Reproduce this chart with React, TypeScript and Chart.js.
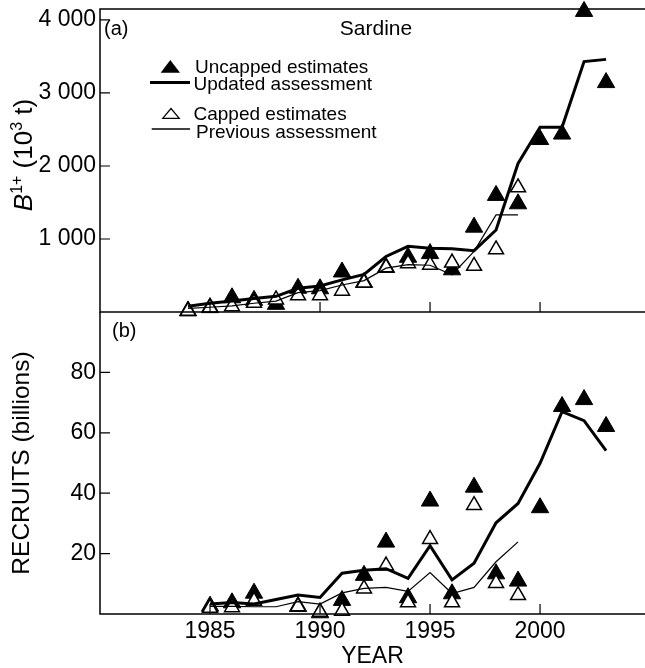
import React, { useEffect, useRef } from 'react';
import { Chart, registerables } from 'chart.js';

Chart.register(...registerables);

const FONT = '"Liberation Sans", Arial, Helvetica, sans-serif';
Chart.defaults.font.family = FONT;
Chart.defaults.color = '#000';

// ---- Panel (a): B1+ biomass (10^3 t) ----
const biomassYears = [1984, 1985, 1986, 1987, 1988, 1989, 1990, 1991, 1992, 1993, 1994, 1995, 1996, 1997, 1998, 1999, 2000, 2001, 2002, 2003];
const biomassUncapped = [15, 60, 195, 160, 105, 325, 318, 548, 405, 610, 750, 800, 578, 1162, 1597, 1482, 2362, 2437, 4117, 3142];
const biomassUpdated = [80, 120, 150, 185, 215, 325, 356, 440, 515, 760, 900, 872, 865, 840, 1123, 2035, 2530, 2530, 3430, 3460];
const biomassCappedYears = [1984, 1985, 1986, 1987, 1988, 1989, 1990, 1991, 1992, 1993, 1994, 1995, 1996, 1997, 1998, 1999];
const biomassCapped = [15, 60, 75, 125, 170, 225, 228, 290, 400, 610, 665, 645, 675, 630, 855, 1705];
const biomassPrevious = [50, 65, 85, 120, 150, 265, 292, 370, 430, 600, 650, 640, 510, 830, 1330, 1330];
const biomassTicks = [1000, 2000, 3000, 4000];
const biomassTickLabels = ['1 000', '2 000', '3 000', '4 000'];

// ---- Panel (b): recruits (billions) ----
const recruitYears = [1985, 1986, 1987, 1988, 1989, 1990, 1991, 1992, 1993, 1994, 1995, 1996, 1997, 1998, 1999, 2000, 2001, 2002, 2003];
const recruitsUncapped = [2.6, 3.7, 6.9, null, 2.5, 0.4, 4.5, 12.8, 23.8, 5.4, 37.4, 6.7, 42.0, 13.3, 10.9, 35.2, 68.7, 71.0, 62.1];
const recruitsUpdated = [3.3, 3.8, 3.3, 4.8, 6.3, 5.5, 13.5, 14.5, 15.0, 11.8, 22.6, 11.3, 16.8, 30.2, 36.6, 49.9, 67.0, 64.0, 54.1];
const recruitCappedYears = [1985, 1986, 1987, 1988, 1989, 1990, 1991, 1992, 1993, 1994, 1995, 1996, 1997, 1998, 1999];
const recruitsCapped = [2.0, 2.2, 4.3, null, 2.5, 0.7, 1.0, 8.4, 16.0, 3.8, 24.8, 3.8, 36.0, 10.2, 6.2];
const recruitsPrevious = [2.5, 2.5, 2.4, 2.4, 4.1, 3.3, 7.0, 8.5, 8.8, 7.5, 13.7, 6.8, 8.8, 17.3, 23.9];
const recruitTicks = [20, 40, 60, 80];
const recruitTickLabels = ['20', '40', '60', '80'];

const yearTicks = [1985, 1990, 1995, 2000];
const yearTickLabels = ['1985', '1990', '1995', '2000'];

const legendLabels = ['Uncapped estimates', 'Updated assessment', 'Capped estimates', 'Previous assessment'];

function pts(xs: number[], ys: (number | null)[]) {
  const out: { x: number; y: number }[] = [];
  ys.forEach((v, i) => {
    if (v !== null && v !== undefined) out.push({ x: xs[i], y: v });
  });
  return out;
}

const framePlugin = {
  id: 'frame',
  afterDatasetsDraw(chart: any, _args: any, opts: any) {
    const { ctx, chartArea: a, scales } = chart;
    const xs = scales.x;
    const ys = scales.y;
    ctx.save();
    ctx.strokeStyle = '#000';
    ctx.lineWidth = 1.5;
    ctx.beginPath();
    ctx.moveTo(a.left, a.top);
    ctx.lineTo(a.left, a.bottom);
    ctx.moveTo(a.left - 0.75, a.bottom);
    ctx.lineTo(a.right, a.bottom);
    if (opts.topBorder) {
      ctx.moveTo(a.left - 0.75, a.top);
      ctx.lineTo(a.right, a.top);
    }
    ctx.stroke();
    ctx.lineWidth = 1.2;
    ctx.beginPath();
    for (const v of opts.xTicks) {
      const px = xs.getPixelForValue(v);
      ctx.moveTo(px, a.bottom);
      ctx.lineTo(px, a.bottom - 10);
    }
    for (const v of opts.yTicks) {
      const py = ys.getPixelForValue(v);
      ctx.moveTo(a.left, py);
      ctx.lineTo(a.left + 10, py);
    }
    ctx.stroke();
    ctx.restore();
  },
};

const textPlugin = {
  id: 'texts',
  afterDraw(chart: any, _args: any, opts: any) {
    const ctx = chart.ctx;
    ctx.save();
    ctx.fillStyle = '#000';
    ctx.strokeStyle = '#000';
    for (const t of opts.items || []) {
      ctx.font = `${t.size}px ${FONT}`;
      ctx.textAlign = t.align || 'left';
      ctx.textBaseline = 'alphabetic';
      ctx.fillText(t.text, t.x, t.y);
    }
    if (opts.legend) {
      ctx.beginPath();
      ctx.moveTo(170.3, 60);
      ctx.lineTo(160.7, 72.7);
      ctx.lineTo(180, 72.7);
      ctx.closePath();
      ctx.fill();
      ctx.lineWidth = 3;
      ctx.beginPath();
      ctx.moveTo(150, 82.5);
      ctx.lineTo(190, 82.5);
      ctx.stroke();
      ctx.lineWidth = 1.2;
      ctx.beginPath();
      ctx.moveTo(171, 108.5);
      ctx.lineTo(162.7, 118.3);
      ctx.lineTo(179.3, 118.3);
      ctx.closePath();
      ctx.stroke();
      ctx.lineWidth = 1.3;
      ctx.beginPath();
      ctx.moveTo(151.7, 129);
      ctx.lineTo(190, 129);
      ctx.stroke();
      ctx.font = `19px ${FONT}`;
      ctx.textAlign = 'left';
      ctx.textBaseline = 'alphabetic';
      ctx.fillText(legendLabels[0], 195, 72.7);
      ctx.fillText(legendLabels[1], 193.5, 90);
      ctx.fillText(legendLabels[2], 193.5, 120);
      ctx.fillText(legendLabels[3], 196, 138.3);
    }
    if (opts.yTitle) {
      const parts = [
        { t: 'B', f: `italic 26px ${FONT}`, dy: 0 },
        { t: '1+', f: `16px ${FONT}`, dy: -10 },
        { t: ' (10', f: `26px ${FONT}`, dy: 0 },
        { t: '3', f: `16px ${FONT}`, dy: -10 },
        { t: ' t)', f: `26px ${FONT}`, dy: 0 },
      ];
      let total = 0;
      const widths = parts.map((p) => {
        ctx.font = p.f;
        const w = ctx.measureText(p.t).width;
        total += w;
        return w;
      });
      ctx.translate(31.5, 155);
      ctx.rotate(-Math.PI / 2);
      ctx.textAlign = 'left';
      ctx.textBaseline = 'alphabetic';
      let x = -total / 2;
      parts.forEach((p, i) => {
        ctx.font = p.f;
        ctx.fillText(p.t, x, p.dy);
        x += widths[i];
      });
    }
    ctx.restore();
  },
};

function markerSets(xsU: number[], u: (number | null)[], xsC: number[], c: (number | null)[]) {
  return [
    {
      label: 'Capped estimates',
      data: pts(xsC, c),
      showLine: false,
      pointStyle: 'triangle',
      pointRadius: 8.6,
      pointHoverRadius: 8.6,
      pointBackgroundColor: '#fff',
      pointBorderColor: '#000',
      pointBorderWidth: 1.5,
      order: 1,
      clip: false,
    },
    {
      label: 'Uncapped estimates',
      data: pts(xsU, u),
      showLine: false,
      pointStyle: 'triangle',
      pointRadius: 10,
      pointHoverRadius: 10,
      pointBackgroundColor: '#000',
      pointBorderColor: '#000',
      pointBorderWidth: 1,
      order: 2,
      clip: false,
    },
  ];
}

function lineSets(xsA: number[], a: number[], xsB: number[], b: number[]) {
  return [
    {
      label: 'Updated assessment',
      data: pts(xsA, a),
      borderColor: '#000',
      borderWidth: 3,
      pointRadius: 0,
      pointHoverRadius: 0,
      tension: 0,
      fill: false,
      order: 0,
    },
    {
      label: 'Previous assessment',
      data: pts(xsB, b),
      borderColor: '#000',
      borderWidth: 1.2,
      pointRadius: 0,
      pointHoverRadius: 0,
      tension: 0,
      fill: false,
      order: 0,
    },
  ];
}

const X_MIN = 1980;
const X_MAX = 2004.77;

export default function App() {
  const topRef = useRef<HTMLCanvasElement | null>(null);
  const botRef = useRef<HTMLCanvasElement | null>(null);

  useEffect(() => {
    const top = new Chart(topRef.current as HTMLCanvasElement, {
      type: 'line',
      data: {
        datasets: [
          ...lineSets(biomassYears, biomassUpdated, biomassCappedYears, biomassPrevious),
          ...markerSets(biomassYears, biomassUncapped, biomassCappedYears, biomassCapped),
        ] as any,
      },
      options: {
        animation: false,
        responsive: false,
        devicePixelRatio: 1,
        events: [],
        layout: { autoPadding: false, padding: { top: 9, left: 0, right: 0, bottom: 0 } },
        plugins: {
          legend: { display: false },
          tooltip: { enabled: false },
          frame: { topBorder: true, xTicks: yearTicks, yTicks: biomassTicks },
          texts: {
            legend: true,
            yTitle: true,
            items: [
              { text: '(a)', x: 104, y: 34.5, size: 20 },
              { text: 'Sardine', x: 376, y: 35, size: 21, align: 'center' },
            ],
          },
        } as any,
        scales: {
          x: {
            type: 'linear',
            min: X_MIN,
            max: X_MAX,
            grid: { display: false, drawTicks: false },
            border: { display: false },
            ticks: { display: false },
            afterFit: (s: any) => {
              s.height = 18;
              s.paddingLeft = 0;
              s.paddingRight = 0;
            },
          },
          y: {
            type: 'linear',
            min: 0,
            max: 4150,
            grid: { display: false, drawTicks: false },
            border: { display: false },
            ticks: {
              padding: 4,
              color: '#000',
              font: { size: 23, family: FONT },
              callback: (_v: any, i: number) => biomassTickLabels[i],
            },
            afterBuildTicks: (s: any) => {
              s.ticks = biomassTicks.map((v) => ({ value: v }));
            },
            afterFit: (s: any) => {
              s.width = 100;
              s.paddingTop = 0;
              s.paddingBottom = 0;
            },
          },
        } as any,
      },
      plugins: [framePlugin, textPlugin] as any,
    });

    const bot = new Chart(botRef.current as HTMLCanvasElement, {
      type: 'line',
      data: {
        datasets: [
          ...lineSets(recruitYears, recruitsUpdated, recruitCappedYears, recruitsPrevious),
          ...markerSets(recruitYears, recruitsUncapped, recruitCappedYears, recruitsCapped),
        ] as any,
      },
      options: {
        animation: false,
        responsive: false,
        devicePixelRatio: 1,
        events: [],
        layout: { autoPadding: false, padding: { top: 0, left: 0, right: 0, bottom: 0 } },
        plugins: {
          legend: { display: false },
          tooltip: { enabled: false },
          frame: { topBorder: false, xTicks: yearTicks, yTicks: recruitTicks },
          texts: {
            items: [{ text: '(b)', x: 112, y: 24.5, size: 20 }],
          },
        } as any,
        scales: {
          x: {
            type: 'linear',
            min: X_MIN,
            max: X_MAX,
            grid: { display: false, drawTicks: false },
            border: { display: false },
            ticks: {
              padding: 4,
              color: '#000',
              font: { size: 23, family: FONT },
              maxRotation: 0,
              autoSkip: false,
              callback: (_v: any, i: number) => yearTickLabels[i],
            },
            afterBuildTicks: (s: any) => {
              s.ticks = yearTicks.map((v) => ({ value: v }));
            },
            title: {
              display: true,
              text: 'YEAR',
              color: '#000',
              font: { size: 23, family: FONT, lineHeight: 1 },
              padding: { top: 0, bottom: 0 },
            },
            afterFit: (s: any) => {
              s.height = 54;
              s.paddingLeft = 0;
              s.paddingRight = 0;
            },
          },
          y: {
            type: 'linear',
            min: 0,
            max: 100,
            grid: { display: false, drawTicks: false },
            border: { display: false },
            ticks: {
              padding: 4,
              color: '#000',
              font: { size: 23, family: FONT },
              callback: (_v: any, i: number) => recruitTickLabels[i],
            },
            afterBuildTicks: (s: any) => {
              s.ticks = recruitTicks.map((v) => ({ value: v }));
            },
            title: {
              display: true,
              text: 'RECRUITS (billions)',
              color: '#000',
              font: { size: 24.5, family: FONT, lineHeight: 1.2 },
              padding: { top: 8, bottom: 0 },
            },
            afterFit: (s: any) => {
              s.width = 100;
              s.paddingTop = 0;
              s.paddingBottom = 0;
            },
          },
        } as any,
      },
      plugins: [framePlugin, textPlugin] as any,
    });

    return () => {
      top.destroy();
      bot.destroy();
    };
  }, []);

  return (
    <div style={{ position: 'absolute', left: 0, top: 0, width: 645, height: 668, background: '#fff', overflow: 'hidden' }}>
      <canvas
        ref={topRef}
        width={645}
        height={330}
        style={{ position: 'absolute', left: 0, top: 0, width: 645, height: 330, display: 'block' }}
      />
      <canvas
        ref={botRef}
        width={645}
        height={356}
        style={{ position: 'absolute', left: 0, top: 312, width: 645, height: 356, display: 'block' }}
      />
    </div>
  );
}
